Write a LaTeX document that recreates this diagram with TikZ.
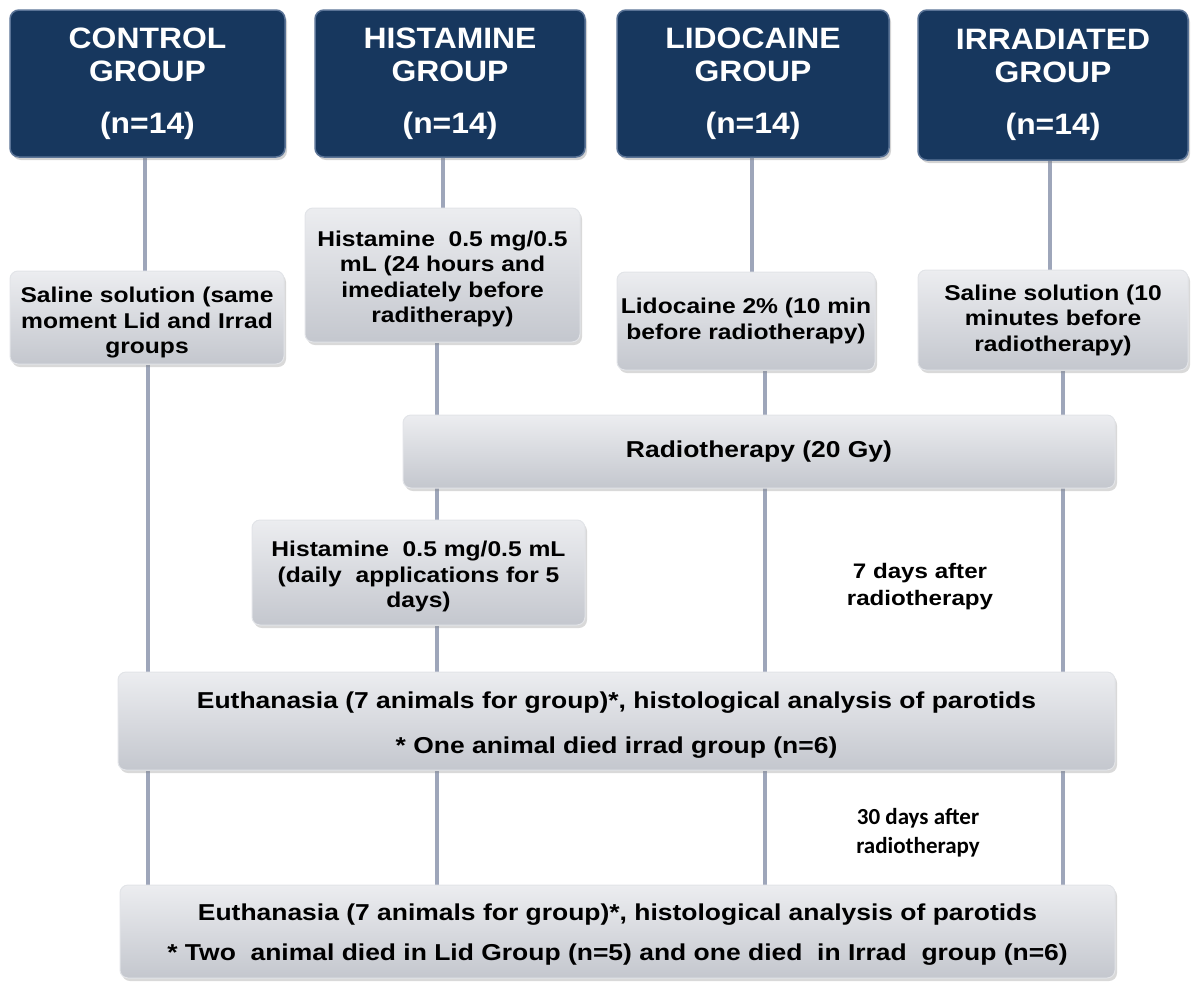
\documentclass[tikz,border=0pt]{standalone}
\usepackage{fontspec}
\setmainfont{Liberation Sans}
\newfontfamily\widef[FakeStretch=1.15]{Liberation Sans}
\newfontfamily\topf[FakeStretch=1.08]{Liberation Sans}
\newfontfamily\calib{Carlito}
\usetikzlibrary{shadows,calc}
\definecolor{navy}{HTML}{17375E}
\definecolor{navyedge}{HTML}{5A7396}
\definecolor{boxtop}{HTML}{ECEDF0}
\definecolor{boxbot}{HTML}{C4C7CE}
\definecolor{boxedge}{HTML}{E2E4E8}
\definecolor{linkc}{HTML}{9EA6BA}
\pgfdeclarelayer{background}
\pgfsetlayers{background,main}
\tikzset{
  groupbox/.style={rectangle, rounded corners=9pt, fill=navy, draw=navyedge, line width=1.5pt,
    text=white, font=\topf\fontsize{29.5}{33}\selectfont\bfseries, align=center,
    drop shadow={shadow xshift=2pt, shadow yshift=-3pt, opacity=.35}},
  graybox/.style={rectangle, rounded corners=8pt, top color=boxtop, bottom color=boxbot,
    draw=boxedge, line width=1pt, text=black, align=center,
    font=\widef\fontsize{21.4}{25.5}\selectfont\bfseries,
    drop shadow={shadow xshift=2pt, shadow yshift=-3pt, opacity=.3}},
  boxtext/.style={text=black, align=center, font=\widef\fontsize{21.4}{25.5}\selectfont\bfseries},
  link/.style={draw=linkc, line width=4pt},
  note/.style={text=black, align=center, font=\widef\fontsize{21}{27}\selectfont\bfseries}
}
\begin{document}
\begin{tikzpicture}[x=1pt,y=-1pt]
\useasboundingbox (0,0) rectangle (1192,983);
% group boxes
\node[groupbox, minimum width=275pt, minimum height=147pt] (cg) at (147.5,83.5) {CONTROL\\GROUP\\[19pt](n=14)};
\node[groupbox, minimum width=270pt, minimum height=147pt] (hg) at (450,83.5) {HISTAMINE\\GROUP\\[19pt](n=14)};
\node[groupbox, minimum width=272pt, minimum height=147pt] (lg) at (753,83.5) {LIDOCAINE\\GROUP\\[19pt](n=14)};
\node[groupbox, minimum width=270pt, minimum height=150pt] (ig) at (1053,85) {IRRADIATED\\GROUP\\[19pt](n=14)};
% treatment boxes
\node[graybox, minimum width=274pt, minimum height=93pt] (cs) at (147,317.5) {};
\node[boxtext] (cst) at ($(cs.center)+(0,5.5)$) {Saline solution (same\\moment Lid and Irrad\\groups};
\node[graybox, minimum width=275pt, minimum height=134pt] (hs1) at (442.5,275) {};
\node[boxtext] (hs1t) at ($(hs1.center)+(0,4)$) {Histamine\ \ 0.5 mg/0.5\\mL (24 hours and\\imediately before\\raditherapy)};
\node[graybox, minimum width=258pt, minimum height=98pt] (ls) at (746,321) {Lidocaine 2\% (10 min\\before radiotherapy)};
\node[graybox, minimum width=270pt, minimum height=100pt] (is) at (1053,320) {Saline solution (10\\minutes before\\radiotherapy)};
\node[graybox, minimum width=712pt, minimum height=73pt, font=\widef\fontsize{23}{28}\selectfont\bfseries] (rt) at (759,451.5) {Radiotherapy (20 Gy)};
\node[graybox, minimum width=333pt, minimum height=105pt] (hs2) at (418.5,572.5) {};
\node[boxtext] (hs2t) at ($(hs2.center)+(0,4)$) {Histamine\ \ 0.5 mg/0.5 mL\\(daily\ \ applications for 5\\days)};
\node[note] (n7) at (920,587) {7 days after\\radiotherapy};
\node[graybox, minimum width=997pt, minimum height=98pt] (e1) at (616.5,721) {};
\node[boxtext, font=\widef\fontsize{23}{45}\selectfont\bfseries] (e1t) at ($(e1.center)+(0,4)$) {Euthanasia (7 animals for group)*, histological analysis of parotids\\* One animal died irrad group (n=6)};
\node[note, font=\calib\fontsize{23}{29}\selectfont\bfseries] (n30) at (918,833) {30 days after\\radiotherapy};
\node[graybox, minimum width=995pt, minimum height=93pt] (e2) at (617.5,931.5) {};
\node[boxtext, font=\widef\fontsize{23}{40}\selectfont\bfseries] (e2t) at ($(e2.center)+(0,3)$) {Euthanasia (7 animals for group)*, histological analysis of parotids\\* Two\ \ animal died in Lid Group (n=5) and one died\ \ in Irrad\ \ group (n=6)};
% column coordinates
\coordinate (c1a) at (145,0);
\coordinate (c1b) at (148,0);
\coordinate (c2a) at (443,0);
\coordinate (c2b) at (437,0);
\coordinate (c3a) at (752,0);
\coordinate (c3b) at (765,0);
\coordinate (c4a) at (1050,0);
\coordinate (c4b) at (1063,0);
\begin{pgfonlayer}{background}
% control
\draw[link] (cg.south -| c1a) -- (cs.north -| c1a);
\draw[link] (cs.south -| c1b) -- (e1.north -| c1b);
\draw[link] (e1.south -| c1b) -- (e2.north -| c1b);
% histamine
\draw[link] (hg.south -| c2a) -- (hs1.north -| c2a);
\draw[link] (hs1.south -| c2b) -- (hs2.north -| c2b);
\draw[link] (hs2.south -| c2b) -- (e1.north -| c2b);
\draw[link] (e1.south -| c2b) -- (e2.north -| c2b);
% lidocaine
\draw[link] (lg.south -| c3a) -- (ls.north -| c3a);
\draw[link] (ls.south -| c3b) -- (e1.north -| c3b);
\draw[link] (e1.south -| c3b) -- (e2.north -| c3b);
% irradiated
\draw[link] (ig.south -| c4a) -- (is.north -| c4a);
\draw[link] (is.south -| c4b) -- (e1.north -| c4b);
\draw[link] (e1.south -| c4b) -- (e2.north -| c4b);
\end{pgfonlayer}
\end{tikzpicture}
\end{document}
